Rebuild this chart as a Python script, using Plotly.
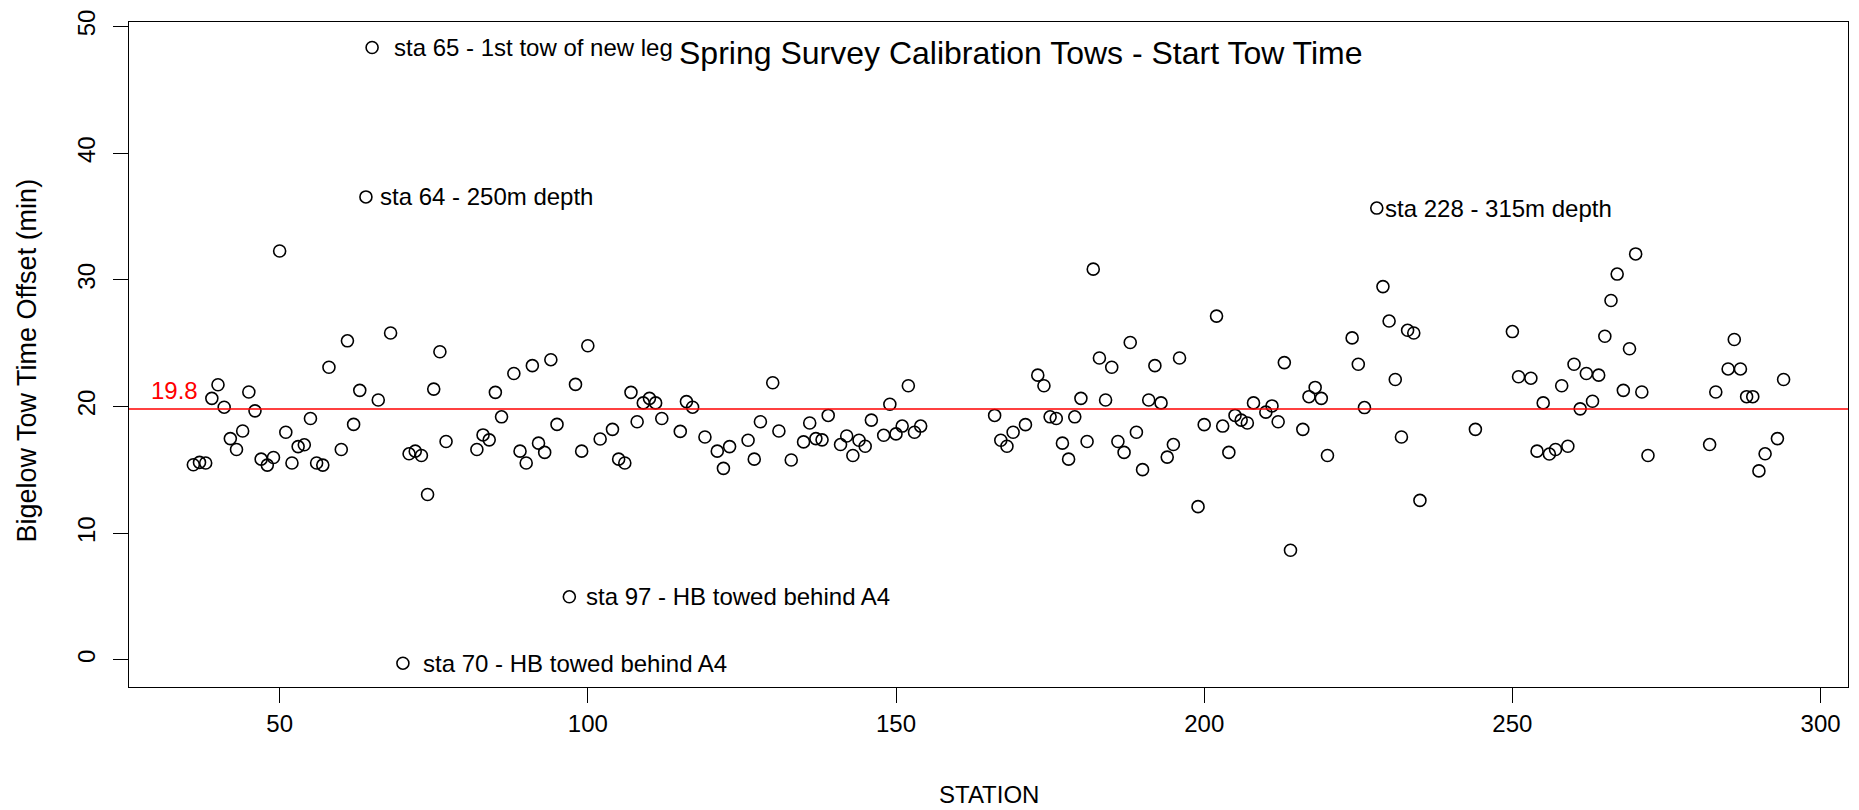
import plotly.graph_objects as go

stations = [36, 37, 38, 39, 40, 41, 42, 43, 44, 45, 46, 47, 48, 49, 50, 51, 52, 53, 54, 55,
            56, 57, 58, 60, 61, 62, 63, 64, 65, 66, 68, 70, 71, 72, 73, 74, 75, 76, 77, 82,
            83, 84, 85, 86, 88, 89, 90, 91, 92, 93, 94, 95, 97, 98, 99, 100, 102, 104, 105, 106,
            107, 108, 109, 110, 111, 112, 115, 116, 117, 119, 121, 122, 123, 126, 127, 128, 130, 131, 133, 135,
            136, 137, 138, 139, 141, 142, 143, 144, 145, 146, 148, 149, 150, 151, 152, 153, 154, 166, 167, 168,
            169, 171, 173, 174, 175, 176, 177, 178, 179, 180, 181, 182, 183, 184, 185, 186, 187, 188, 189, 190,
            191, 192, 193, 194, 195, 196, 199, 200, 202, 203, 204, 205, 206, 207, 208, 210, 211, 212, 213, 214,
            216, 217, 218, 219, 220, 224, 225, 226, 228, 229, 230, 231, 232, 233, 234, 235, 244, 250, 251, 253,
            254, 255, 256, 257, 258, 259, 260, 261, 262, 263, 264, 265, 266, 267, 268, 269, 270, 271, 272, 282,
            283, 285, 286, 287, 288, 289, 290, 291, 293, 294]

offsets = [15.41, 15.59, 15.54, 20.65, 21.72, 19.95, 17.47, 16.61, 18.07, 21.15, 19.66, 15.85, 15.38, 15.98, 32.28, 17.97, 15.54, 16.84, 16.98, 19.06,
           15.54, 15.38, 23.10, 16.61, 25.19, 18.59, 21.28, 36.55, 48.35, 20.52, 25.81, -0.26, 16.27, 16.48, 16.14, 13.06, 21.38, 24.33, 17.24, 16.61,
           17.76, 17.37, 21.12, 19.19, 22.61, 16.48, 15.54, 23.23, 17.11, 16.38, 23.70, 18.59, 4.98, 21.75, 16.48, 24.80, 17.44, 18.20, 15.85, 15.54,
           21.12, 18.80, 20.29, 20.65, 20.29, 19.06, 18.04, 20.39, 19.95, 17.60, 16.48, 15.12, 16.84, 17.34, 15.85, 18.80, 21.88, 18.07, 15.78, 17.21,
           18.70, 17.47, 17.37, 19.30, 17.00, 17.68, 16.14, 17.34, 16.87, 18.93, 17.73, 20.18, 17.84, 18.46, 21.64, 17.97, 18.46, 19.30, 17.34, 16.87,
           17.97, 18.57, 22.48, 21.64, 19.19, 19.06, 17.11, 15.85, 19.19, 20.65, 17.24, 30.85, 23.83, 20.52, 23.10, 17.24, 16.38, 25.06, 17.97, 15.02,
           20.52, 23.23, 20.29, 16.01, 17.00, 23.83, 12.10, 18.57, 27.14, 18.46, 16.38, 19.30, 18.93, 18.70, 20.29, 19.56, 20.05, 18.80, 23.47, 8.66,
           18.20, 20.78, 21.51, 20.65, 16.14, 25.42, 23.34, 19.92, 35.67, 29.47, 26.75, 22.14, 17.60, 26.02, 25.81, 12.59, 18.20, 25.92, 22.35, 22.24,
           16.48, 20.29, 16.25, 16.61, 21.64, 16.87, 23.34, 19.82, 22.61, 20.42, 22.48, 25.55, 28.37, 30.46, 21.28, 24.56, 32.05, 21.15, 16.14, 17.00,
           21.15, 22.97, 25.29, 22.97, 20.78, 20.78, 14.92, 16.27, 17.47, 22.14]

mean_offset = 19.8

note_stations = [65, 64, 97, 70, 228]
note_texts = ["sta 65 - 1st tow of new leg", "sta 64 - 250m depth", "sta 97 - HB towed behind A4",
              "sta 70 - HB towed behind A4", "sta 228 - 315m depth"]
note_gaps = [21, 13, 16, 19, 7]

x_ticks = [50, 100, 150, 200, 250, 300]
y_ticks = [0, 10, 20, 30, 40, 50]

title_text = "Spring Survey Calibration Tows - Start Tow Time"
x_title = "STATION"
y_title = "Bigelow Tow Time Offset (min)"

FONT = "Liberation Sans, Arial, sans-serif"

fig = go.Figure()
fig.add_trace(go.Scatter(
    x=stations, y=offsets, mode="markers",
    marker=dict(symbol="circle-open", size=12, color="black", line=dict(width=1.6, color="black")),
    showlegend=False, hoverinfo="x+y"))

fig.add_shape(type="line", xref="paper", x0=0, x1=1, yref="y", y0=mean_offset, y1=mean_offset,
              line=dict(color="#ff0000", width=1.5))

annotations = []
lookup = dict(zip(stations, offsets))
for s, t, g in zip(note_stations, note_texts, note_gaps):
    annotations.append(dict(x=s, y=lookup[s], xref="x", yref="y", text=t, showarrow=False,
                            xanchor="left", yanchor="middle", xshift=g, borderpad=0,
                            font=dict(family=FONT, size=24, color="black")))
annotations.append(dict(x=28.9, y=21.3, xref="x", yref="y", text=f"{mean_offset}", showarrow=False,
                        xanchor="left", yanchor="middle", borderpad=0,
                        font=dict(family=FONT, size=24, color="#ff0000")))
annotations.append(dict(x=170.3, y=47.9, xref="x", yref="y", text=title_text, showarrow=False,
                        xanchor="center", yanchor="middle", borderpad=0,
                        font=dict(family=FONT, size=32, color="black")))
annotations.append(dict(x=0.5, y=0, xref="paper", yref="paper", text=x_title, showarrow=False,
                        xanchor="center", yanchor="middle", yshift=-107, borderpad=0,
                        font=dict(family=FONT, size=24, color="black")))
annotations.append(dict(x=0, y=0.5, xref="paper", yref="paper", text=y_title, showarrow=False,
                        xanchor="center", yanchor="middle", xshift=-103, yshift=-6, textangle=-90, borderpad=0,
                        font=dict(family=FONT, size=27, color="black")))

axis_common = dict(showline=True, mirror=True, linecolor="black", linewidth=1.3,
                   ticks="outside", ticklen=15, tickwidth=1.3, tickcolor="black",
                   showgrid=False, zeroline=False,
                   tickfont=dict(family=FONT, size=24, color="black"))

fig.update_layout(
    width=1859, height=810,
    margin=dict(l=129, r=10, t=16, b=123),
    paper_bgcolor="white", plot_bgcolor="white",
    xaxis=dict(range=[25.56, 304.45], tickvals=x_ticks, ticktext=[str(v) for v in x_ticks], **axis_common),
    yaxis=dict(range=[-2.14, 50.36], tickvals=y_ticks, ticktext=[str(v) for v in y_ticks], tickangle=-90,
               ticklabelstandoff=8, **axis_common),
    annotations=annotations,
    font=dict(family=FONT, size=24, color="black"),
)

fig.write_html("out.html", include_plotlyjs=True, full_html=True,
               config={"displayModeBar": False},
               post_script="document.body.style.margin='0';document.body.style.padding='0';")
